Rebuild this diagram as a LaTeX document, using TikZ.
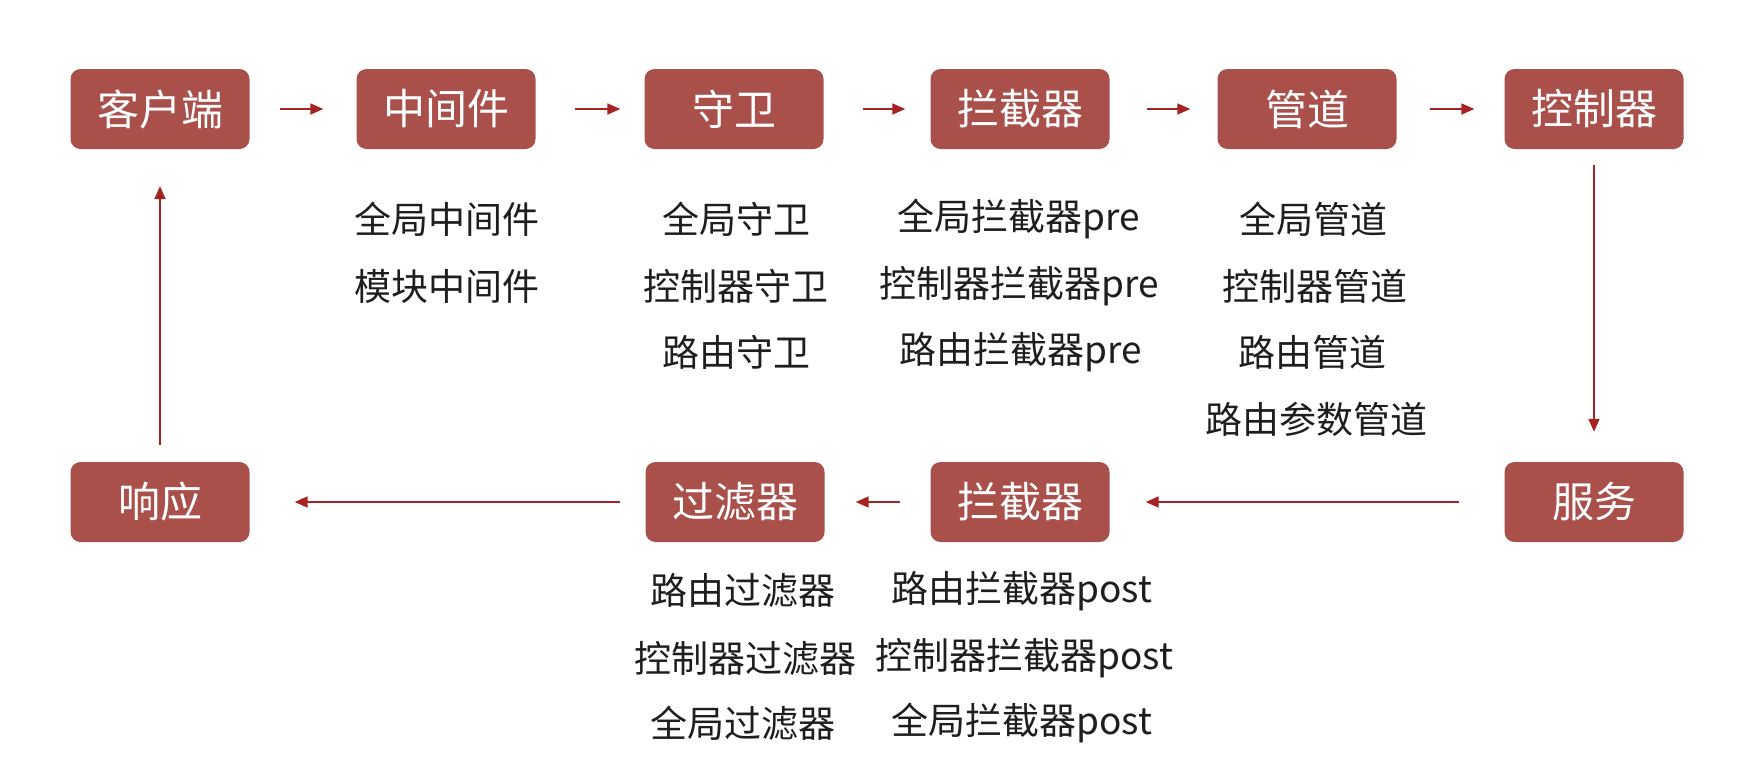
\documentclass[tikz,border=0pt]{standalone}
\usepackage{fontspec}
\newfontfamily\cjkfont{Noto Sans CJK SC}
\usetikzlibrary{arrows.meta}
\definecolor{boxred}{RGB}{170,80,75}
\definecolor{arrred}{RGB}{165,35,35}
\definecolor{txt}{RGB}{30,30,30}
\tikzset{
  stage/.style={fill=boxred, rounded corners=10pt, minimum width=179pt, minimum height=80pt,
    text=white, font=\cjkfont\fontsize{42}{50}\selectfont, inner sep=0pt},
  item/.style={text=txt, font=\cjkfont\fontsize{37}{44}\selectfont, inner sep=0pt},
  flow/.style={draw=arrred, line width=1.8pt, -{Triangle[length=13pt,width=11pt]}}
}
\begin{document}
\begin{tikzpicture}[x=1pt,y=1pt]
\fill[white] (0,0) rectangle (1744,-756);
\useasboundingbox (0,0) rectangle (1744,-756);
% top row
\node[stage] (client) at (160,-109) {客户端};
\node[stage] (mw) at (446,-109) {中间件};
\node[stage] (guard) at (734,-109) {守卫};
\node[stage] (icpt) at (1020,-109) {拦截器};
\node[stage] (pipe) at (1307,-109) {管道};
\node[stage] (ctrl) at (1594,-109) {控制器};
% bottom row
\node[stage] (resp) at (160,-502) {响应};
\node[stage] (filt) at (735,-502) {过滤器};
\node[stage] (icpt2) at (1020,-502) {拦截器};
\node[stage] (svc) at (1594,-502) {服务};
% items
\node[item] (mw1) at (447,-219) {全局中间件};
\node[item] (mw2) at (447,-286) {模块中间件};
\node[item] (g1) at (736,-219) {全局守卫};
\node[item] (g2) at (736,-286) {控制器守卫};
\node[item] (g3) at (736,-352) {路由守卫};
\node[item] (i1) at (1019,-219) {全局拦截器pre};
\node[item] (i2) at (1019,-286) {控制器拦截器pre};
\node[item] (i3) at (1021,-352) {路由拦截器pre};
\node[item] (p1) at (1313,-219) {全局管道};
\node[item] (p2) at (1315,-286) {控制器管道};
\node[item] (p3) at (1312,-352) {路由管道};
\node[item] (p4) at (1316,-419) {路由参数管道};
\node[item] (f1) at (743,-591) {路由过滤器};
\node[item] (f2) at (745,-658) {控制器过滤器};
\node[item] (f3) at (743,-723) {全局过滤器};
\node[item] (j1) at (1022,-591) {路由拦截器post};
\node[item] (j2) at (1024,-658) {控制器拦截器post};
\node[item] (j3) at (1022,-723) {全局拦截器post};
% connectors
\draw[flow, shorten <=30pt, shorten >=33pt] (client) -- (mw);
\draw[flow, shorten <=39pt, shorten >=24pt] (mw) -- (guard);
\draw[flow, shorten <=39pt, shorten >=25pt] (guard) -- (icpt);
\draw[flow, shorten <=37pt, shorten >=27pt] (icpt) -- (pipe);
\draw[flow, shorten <=33pt, shorten >=30pt] (pipe) -- (ctrl);
\draw[flow, shorten <=16pt, shorten >=30pt] (ctrl) -- (svc);
\draw[flow, shorten <=45pt, shorten >=36pt] (svc) -- (icpt2);
\draw[flow, shorten <=30pt, shorten >=31pt] (icpt2) -- (filt);
\draw[flow, shorten <=25pt, shorten >=45pt] (filt) -- (resp);
\draw[flow, shorten <=17pt, shorten >=37pt] (resp) -- (client);
\end{tikzpicture}
\end{document}
